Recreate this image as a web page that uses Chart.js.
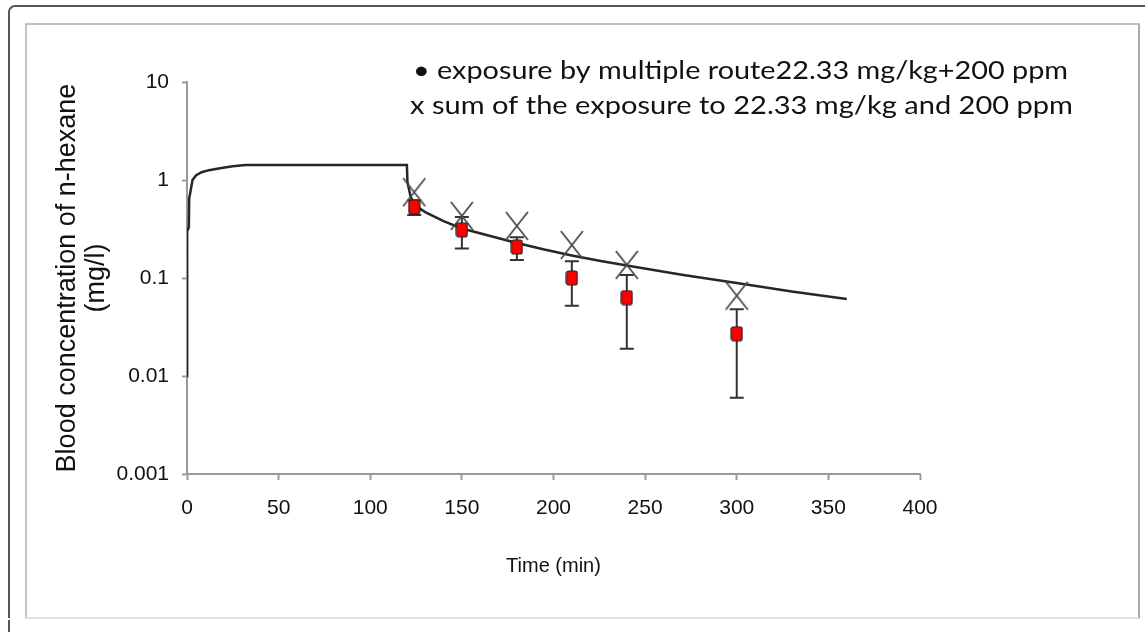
<!DOCTYPE html>
<html>
<head>
<meta charset="utf-8">
<script src="https://cdn.jsdelivr.net/npm/chart.js@4/dist/chart.umd.min.js"></script>
<style>
	html, body { margin: 0; padding: 0; background: #fff; }
	#wrap { position: relative; width: 1145px; height: 632px; overflow: hidden; }
	#chart { position: absolute; left: 0; top: 0; }
	.outer { position: absolute; left: 8px; top: 5px; width: 1200px; height: 611px; border-left: 2px solid #555; border-top: 2px solid #555; border-top-left-radius: 7px; }
	.outer-tail { position: absolute; left: 8px; top: 620px; width: 2px; height: 12px; background: #555; }
	.inner { position: absolute; left: 25px; top: 23px; width: 1111px; height: 592px; border: 2px solid #c2c2c2; border-right-color: #ababab; border-bottom-color: #e2e2e2; }
</style>
</head>
<body>
<div id="wrap">
	<canvas id="chart" width="1145" height="632"></canvas>
	<div class="outer"></div>
	<div class="outer-tail"></div>
	<div class="inner"></div>
</div>
<script>
// sampling times (min) and blood concentrations (mg/l)
const sampleTime = [124, 150, 180, 210, 240, 300];
const measuredConc = [0.53, 0.31, 0.207, 0.10, 0.063, 0.027];
const measuredErr = [0.09, 0.11, 0.054, 0.048, 0.044, 0.021];
const sumConc = [0.75, 0.43, 0.34, 0.217, 0.136, 0.066];

// simulated curve
const modelTime = [0, 0.1, 1, 1.2, 2, 3, 5, 8, 12, 18, 25, 32, 120, 120.3, 122, 124, 130, 140, 150, 165, 180, 195, 210, 225, 240, 270, 300, 330, 360];
const modelConc = [0.01, 0.3, 0.33, 0.65, 0.78, 1.0, 1.12, 1.2, 1.26, 1.32, 1.38, 1.42, 1.42, 0.95, 0.68, 0.56, 0.47, 0.38, 0.32, 0.27, 0.228, 0.195, 0.17, 0.15, 0.134, 0.108, 0.089, 0.073, 0.061];

const xTicks = [0, 50, 100, 150, 200, 250, 300, 350, 400];
const yTicks = [0.001, 0.01, 0.1, 1, 10];
const xTitle = 'Time (min)';
const yTitle = ['Blood concentration of n-hexane', '(mg/l)'];
const legendLines = [
	'\u2022 exposure by multiple route22.33 mg/kg+200 ppm',
	'x sum of the exposure to 22.33 mg/kg and 200 ppm'
];

const arial = "'Liberation Sans', Arial, sans-serif";
const textColor = '#111';
const axisColor = '#9a9a9a';

// red rounded square used for the measured points
function makeSquare() {
	const c = document.createElement('canvas');
	c.width = 13; c.height = 16;
	const g = c.getContext('2d');
	g.beginPath();
	g.roundRect(1, 1, 11, 14, 2.5);
	g.fillStyle = '#ff0000';
	g.fill();
	g.lineWidth = 1.2;
	g.strokeStyle = '#222';
	g.stroke();
	return c;
}

// x shaped marker for the summed exposure
function makeCross() {
	const c = document.createElement('canvas');
	c.width = 24; c.height = 30;
	const g = c.getContext('2d');
	g.strokeStyle = '#4a4a4a';
	g.lineWidth = 1.8;
	g.beginPath();
	g.moveTo(1, 1); g.lineTo(23, 29);
	g.moveTo(23, 1); g.lineTo(1, 29);
	g.stroke();
	return c;
}

const errorBars = {
	id: 'errorBars',
	beforeDatasetsDraw(chart) {
		const ctx = chart.ctx;
		const x = chart.scales.x, y = chart.scales.y;
		ctx.save();
		ctx.strokeStyle = '#333';
		ctx.lineWidth = 2;
		sampleTime.forEach((t, i) => {
			const px = x.getPixelForValue(t);
			const lo = y.getPixelForValue(measuredConc[i] - measuredErr[i]);
			const hi = y.getPixelForValue(measuredConc[i] + measuredErr[i]);
			ctx.beginPath();
			ctx.moveTo(px, lo); ctx.lineTo(px, hi);
			ctx.moveTo(px - 7, lo); ctx.lineTo(px + 7, lo);
			ctx.moveTo(px - 7, hi); ctx.lineTo(px + 7, hi);
			ctx.stroke();
		});
		ctx.restore();
	}
};

const legendText = {
	id: 'legendText',
	afterDraw(chart) {
		const ctx = chart.ctx;
		const spots = [{ x: 413, y: 71, w: 655 }, { x: 410, y: 106, w: 663 }];
		ctx.save();
		ctx.font = '25px Lato';
		ctx.fillStyle = textColor;
		ctx.textBaseline = 'middle';
		legendLines.forEach((line, i) => {
			const s = spots[i];
			const w = ctx.measureText(line).width;
			ctx.save();
			ctx.translate(s.x, s.y);
			ctx.scale(s.w / w, 1);
			ctx.fillText(line, 0, 0);
			ctx.restore();
		});
		ctx.restore();
	}
};

new Chart(document.getElementById('chart'), {
	type: 'scatter',
	data: {
		datasets: [
			{
				label: 'exposure by multiple route',
				data: sampleTime.map((t, i) => ({ x: t, y: measuredConc[i] })),
				pointStyle: makeSquare(),
				pointRadius: 7,
				showLine: false
			},
			{
				label: 'sum of the exposure',
				data: sampleTime.map((t, i) => ({ x: t, y: sumConc[i] })),
				pointStyle: makeCross(),
				pointRadius: 12,
				showLine: false
			},
			{
				type: 'line',
				label: 'model',
				data: modelTime.map((t, i) => ({ x: t, y: modelConc[i] })),
				borderColor: '#262626',
				borderWidth: 2.5,
				pointRadius: 0,
				tension: 0,
				fill: false
			}
		]
	},
	options: {
		responsive: false,
		animation: false,
		devicePixelRatio: 1,
		layout: { padding: { top: 82, right: 225, left: 0, bottom: 0 } },
		plugins: {
			legend: { display: false },
			tooltip: { enabled: false }
		},
		scales: {
			x: {
				type: 'linear',
				min: 0,
				max: 400,
				afterBuildTicks: s => { s.ticks = xTicks.map(v => ({ value: v })); },
				afterFit: s => { s.height = 158; },
				ticks: { font: { family: arial, size: 21 }, color: textColor, padding: 16, maxRotation: 0, autoSkip: false },
				grid: { drawOnChartArea: false, tickLength: 6, color: axisColor, tickWidth: 2 },
				border: { color: axisColor, width: 2 },
				title: { display: true, text: xTitle, font: { family: arial, size: 20 }, color: textColor, padding: { top: 0, bottom: 54 } }
			},
			y: {
				type: 'logarithmic',
				min: 0.001,
				max: 10,
				afterBuildTicks: s => { s.ticks = yTicks.map(v => ({ value: v })); },
				afterFit: s => { s.width = 187; },
				ticks: { callback: v => String(v), font: { family: arial, size: 21 }, color: textColor, padding: 13, autoSkip: false },
				grid: { drawOnChartArea: false, tickLength: 5, color: axisColor, tickWidth: 2 },
				border: { color: axisColor, width: 2 },
				title: { display: true, text: yTitle, font: { family: arial, size: 27, lineHeight: 1.07 }, color: textColor, padding: { top: 53, bottom: 0 } }
			}
		}
	},
	plugins: [errorBars, legendText]
});
</script>
</body>
</html>
